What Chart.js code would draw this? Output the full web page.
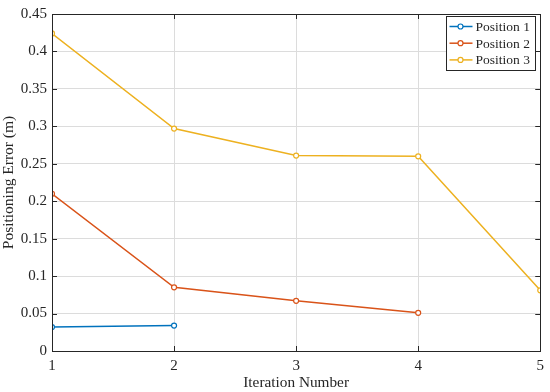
<!DOCTYPE html>
<html lang="en">
<head>
  <meta charset="UTF-8">
  <title>Positioning Error</title>
  <style>
    html, body { margin: 0; padding: 0; background: #fff; }
    #wrap { width: 550px; height: 392px; }
  </style>
</head>
<body>
  <div id="wrap"><canvas id="myChart" width="550" height="392"></canvas></div>
<script src="https://cdn.jsdelivr.net/npm/chart.js@4.4.0/dist/chart.umd.min.js"></script>
<script>
const iterations = [1, 2, 3, 4, 5];
const position1 = [0.032, 0.034];
const position2 = [0.210, 0.085, 0.067, 0.051];
const position3 = [0.424, 0.297, 0.261, 0.260, 0.081];
const seriesNames = ['Position 1', 'Position 2', 'Position 3'];
const seriesColors = ['#0072BD', '#D95319', '#EDB120'];

const FONT = '"Liberation Serif", "Times New Roman", serif';
const AXIS = '#262626';

function toPoints(vals) {
  return vals.map((v, i) => ({ x: iterations[i], y: v }));
}

const datasets = [position1, position2, position3].map((vals, i) => ({
  label: seriesNames[i],
  data: toPoints(vals),
  borderColor: seriesColors[i],
  backgroundColor: '#ffffff',
  pointBorderColor: seriesColors[i],
  pointBackgroundColor: '#ffffff',
  pointRadius: 2.5,
  pointBorderWidth: 1.2,
  borderWidth: 1.5,
  tension: 0
}));

// box, inward ticks and legend drawn inside the axes like matlab
const boxPlugin = {
  id: 'box',
  afterDatasetsDraw(chart) {
    const { ctx, chartArea: a, scales } = chart;
    ctx.save();
    ctx.strokeStyle = AXIS;
    ctx.lineWidth = 1;
    const L = 5;
    ctx.beginPath();
    scales.x.ticks.forEach(t => {
      const px = Math.round(scales.x.getPixelForValue(t.value)) + 0.5;
      ctx.moveTo(px, a.bottom); ctx.lineTo(px, a.bottom - L);
      ctx.moveTo(px, a.top); ctx.lineTo(px, a.top + L);
    });
    scales.y.ticks.forEach(t => {
      const py = Math.round(scales.y.getPixelForValue(t.value)) + 0.5;
      ctx.moveTo(a.left, py); ctx.lineTo(a.left + L, py);
      ctx.moveTo(a.right, py); ctx.lineTo(a.right - L, py);
    });
    ctx.stroke();
    ctx.strokeRect(Math.round(a.left) + 0.5, Math.round(a.top) + 0.5,
      Math.round(a.right - a.left), Math.round(a.bottom - a.top));

    // legend
    const bx = 446.5, by = 16.5, bw = 89, bh = 54;
    ctx.fillStyle = '#fff';
    ctx.fillRect(bx, by, bw, bh);
    ctx.strokeStyle = AXIS;
    ctx.strokeRect(bx, by, bw, bh);
    ctx.font = '13.5px ' + FONT;
    ctx.textBaseline = 'middle';
    chart.data.datasets.forEach((ds, i) => {
      const y = by + 10 + i * 16.7;
      ctx.strokeStyle = ds.borderColor;
      ctx.lineWidth = 1.5;
      ctx.beginPath();
      ctx.moveTo(bx + 3, y); ctx.lineTo(bx + 26, y);
      ctx.stroke();
      ctx.beginPath();
      ctx.lineWidth = 1.2;
      ctx.fillStyle = '#fff';
      ctx.arc(bx + 14, y, 2.5, 0, Math.PI * 2);
      ctx.fill(); ctx.stroke();
      ctx.fillStyle = AXIS;
      ctx.fillText(ds.label, bx + 29, y + 1);
    });
    ctx.restore();
  }
};

const ctx = document.getElementById('myChart').getContext('2d');
new Chart(ctx, {
  type: 'line',
  data: { datasets },
  options: {
    responsive: false,
    animation: false,
    layout: { padding: { top: 9, right: 9, left: 0, bottom: 0 } },
    plugins: {
      legend: { display: false },
      tooltip: { enabled: false }
    },
    scales: {
      x: {
        type: 'linear',
        min: 1, max: 5,
        afterFit(scale) { scale.height = 41; },
        afterBuildTicks(scale) { scale.ticks = iterations.map(v => ({ value: v })); },
        grid: { color: '#dcdcdc', drawTicks: false, lineWidth: 1 },
        border: { display: false },
        ticks: {
          color: AXIS, padding: 6,
          font: { family: FONT, size: 15 },
          callback: v => String(v)
        },
        title: {
          display: true, text: 'Iteration Number', color: AXIS,
          font: { family: FONT, size: 15.3 }, padding: { top: 0, bottom: 0 }
        }
      },
      y: {
        min: 0, max: 0.45,
        afterFit(scale) { scale.width = 52; },
        grid: { color: '#dcdcdc', drawTicks: false, lineWidth: 1 },
        border: { display: false },
        ticks: {
          stepSize: 0.05, color: AXIS, padding: 5,
          font: { family: FONT, size: 15 },
          callback: v => String(Math.round(v * 100) / 100)
        },
        title: {
          display: true, text: 'Positioning Error (m)', color: AXIS,
          font: { family: FONT, size: 15.5 }, padding: { top: 0, bottom: 0 }
        }
      }
    }
  },
  plugins: [boxPlugin]
});
</script>
</body>
</html>
